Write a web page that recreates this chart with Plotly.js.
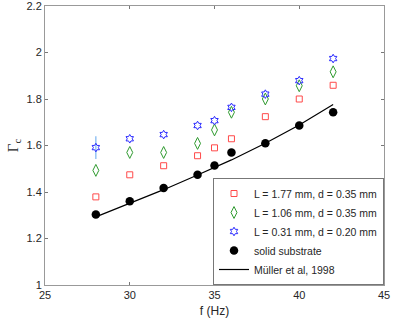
<!DOCTYPE html>
<html>
<head>
<meta charset="utf-8">
<script src="https://cdn.plot.ly/plotly-3.0.1.min.js"></script>
<style>
  html, body { margin: 0; padding: 0; background: #fff; }
  #plot { width: 395px; height: 321px; }
</style>
</head>
<body>
<div id="plot"></div>
<script>
// frequencies (Hz)
const freq = [28, 30, 32, 34, 35, 36, 38, 40, 42];

// critical acceleration for each substrate
const gammaL177 = [1.379, 1.474, 1.513, 1.556, 1.590, 1.629, 1.724, 1.800, 1.859];
const gammaL106 = [1.493, 1.570, 1.570, 1.609, 1.667, 1.743, 1.800, 1.857, 1.917];
const gammaL031 = [1.591, 1.629, 1.647, 1.686, 1.707, 1.764, 1.821, 1.879, 1.974];
const errL031 = [0.049, 0, 0, 0, 0, 0, 0, 0, 0];
const gammaSolid = [1.303, 1.360, 1.417, 1.474, 1.514, 1.570, 1.610, 1.686, 1.743];

// Müller et al, 1998 curve
const mullerFreq = [28, 30, 32, 34, 36, 38, 40, 42];
const mullerGamma = [1.293, 1.350, 1.410, 1.473, 1.538, 1.610, 1.688, 1.776];

const font = "Liberation Sans, Arial, sans-serif";

const traces = [
  {
    x: freq, y: gammaL177, type: 'scatter', mode: 'markers',
    name: 'L = 1.77 mm, d = 0.35 mm',
    marker: { symbol: 'square-open', size: 6, color: '#ff4a4a', line: { width: 1 } }
  },
  {
    x: freq, y: gammaL106, type: 'scatter', mode: 'markers',
    name: 'L = 1.06 mm, d = 0.35 mm',
    marker: { symbol: 'diamond-tall-open', size: 8.5, color: '#2e9a2e', line: { width: 1 } }
  },
  {
    x: freq, y: gammaL031, type: 'scatter', mode: 'markers',
    name: 'L = 0.31 mm, d = 0.20 mm',
    marker: { symbol: 'hexagram-open', size: 6.5, color: '#2a2aff', line: { width: 1 } },
    error_y: { type: 'data', array: errL031, color: '#7ab4f0', thickness: 1.2, width: 0 }
  },
  {
    x: freq, y: gammaSolid, type: 'scatter', mode: 'markers',
    name: 'solid substrate',
    marker: { symbol: 'circle', size: 8.5, color: '#000' }
  },
  {
    x: mullerFreq, y: mullerGamma, type: 'scatter', mode: 'lines',
    name: 'Müller et al, 1998',
    line: { color: '#000', width: 1.2 }
  }
];

const layout = {
  width: 395,
  height: 321,
  margin: { l: 45, r: 11, t: 6, b: 36 },
  paper_bgcolor: '#fff',
  plot_bgcolor: '#fff',
  font: { family: font, size: 11, color: '#262626' },
  showlegend: true,
  legend: {
    x: 1, y: 0, xanchor: 'right', yanchor: 'bottom',
    xref: 'paper', yref: 'paper',
    bgcolor: '#fff', bordercolor: '#777', borderwidth: 1,
    font: { family: font, size: 10.5, color: '#262626' },
    tracegroupgap: 0, itemwidth: 30
  },
  xaxis: {
    range: [25, 45],
    tickvals: [25, 30, 35, 40, 45],
    ticks: 'inside', ticklen: 3, tickcolor: '#777',
    showline: true, linecolor: '#999', linewidth: 1, mirror: 'ticks',
    showgrid: false, zeroline: false,
    title: { text: 'f (Hz)', font: { size: 12 }, standoff: 6 }
  },
  yaxis: {
    range: [1, 2.2],
    tickvals: [1, 1.2, 1.4, 1.6, 1.8, 2, 2.2],
    ticktext: ['1', '1.2', '1.4', '1.6', '1.8', '2', '2.2'],
    ticklabeloverflow: 'allow',
    ticks: 'inside', ticklen: 3, tickcolor: '#777',
    showline: true, linecolor: '#999', linewidth: 1, mirror: 'ticks',
    showgrid: false, zeroline: false,
    title: { text: 'Γ<sub>c</sub>', font: { family: 'Liberation Serif, serif', size: 15 }, standoff: 4 }
  }
};

Plotly.newPlot('plot', traces, layout, { staticPlot: true });
</script>
</body>
</html>
